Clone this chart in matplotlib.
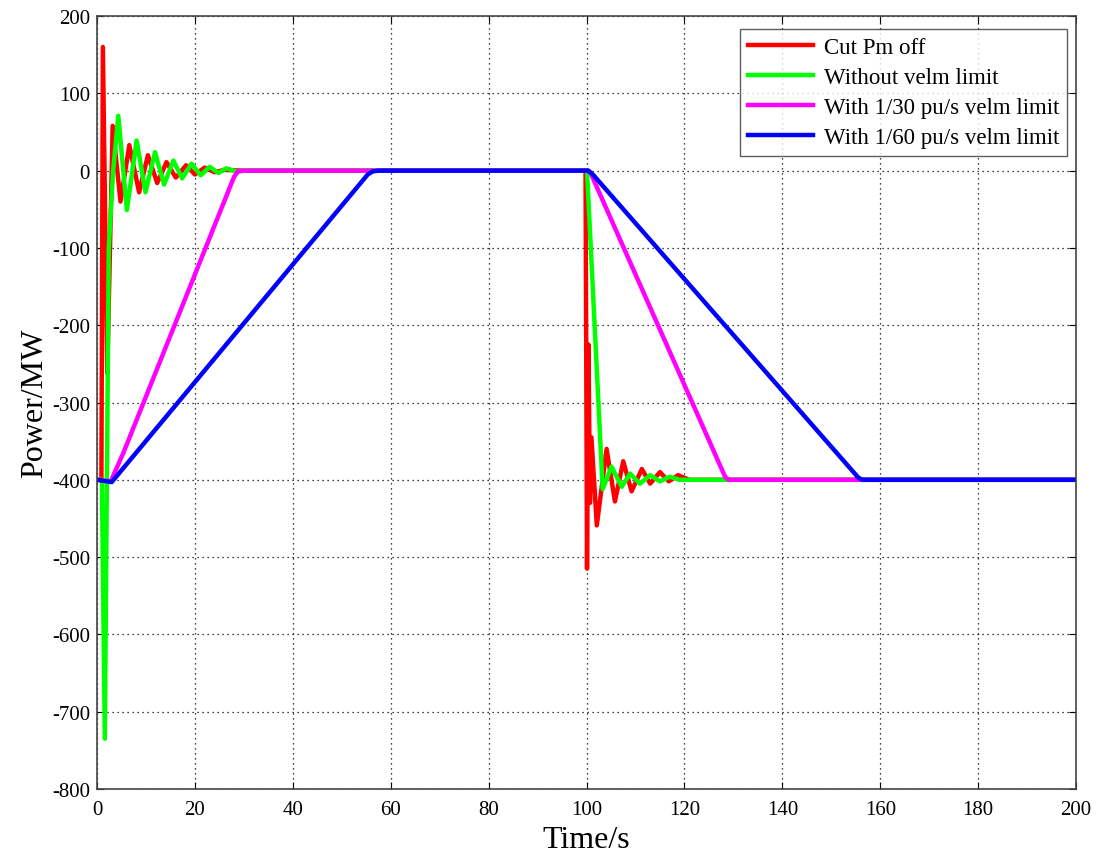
import numpy as np
import matplotlib
matplotlib.use('Agg')
import matplotlib.pyplot as plt

plt.rcParams['font.family'] = ['Liberation Serif', 'DejaVu Serif']
plt.rcParams['axes.unicode_minus'] = False

# Cut Pm off
t_cut = [0, 0.9, 1.2, 2.1, 3.2, 4.8, 6.6, 8.6, 10.4, 12.3, 14.2, 16.1, 18.2, 20.0, 22.0, 24.0, 26.0, 30.0,
         99.8, 100.1, 100.4, 100.7, 101.0, 102.1, 104.1, 105.8, 107.5, 109.2, 111.3, 113.0, 115.0,
         116.8, 118.7, 121.0, 200]
p_cut = [-400, -400, 160, -262, 58, -40, 33, -28, 20, -16, 11, -9, 7, -5, 4, -2, 1, 0,
         0, -515, -225, -430, -345, -459, -360, -428, -376, -415, -386, -405, -390,
         -402, -394, -400, -400]

# Without velm limit
t_free = [0, 1.0, 1.6, 2.4, 3.3, 4.35, 6.1, 8.1, 9.9, 11.85, 13.7, 15.6, 17.4, 19.3, 21.2, 23.0, 24.8,
          26.4, 28.5, 30.0, 100.1, 103.3, 105.1, 107.2, 108.9, 110.9, 113.0, 115.0, 117.0, 119.0, 200]
p_free = [-400, -400, -735, -100, 0, 71, -51, 39, -28, 24, -18, 13, -10, 9, -6, 5, -3,
          3, -1, 0, 0, -412, -383, -409, -392, -405, -394, -402, -396, -400, -400]

# With 1/30 pu/s velm limit
t_30 = [0, 2.8, 5.4, 28.0, 28.8, 30.0, 100.3, 100.9, 128.3, 129.0, 200]
p_30 = [-400, -402, -365, -8, -1, 0, 0, -4, -396, -400, -400]

# With 1/60 pu/s velm limit
t_60 = [0, 3.0, 55.3, 56.3, 57.5, 100.4, 101.3, 155.5, 156.3, 200]
p_60 = [-400, -403, -5, -1, 0, 0, -5, -397, -400, -400]

fig = plt.figure(figsize=(10.96, 8.54), dpi=100)
ax = fig.add_axes([0.0885, 0.075, 0.8933, 0.905])

lw = 3.2
ax.plot(t_cut, p_cut, color='#ff0000', lw=lw, label='Cut Pm off')
ax.plot(t_free, p_free, color='#00ff00', lw=lw, label='Without velm limit')
ax.plot(t_30, p_30, color='#ff00ff', lw=lw, label='With 1/30 pu/s velm limit')
ax.plot(t_60, p_60, color='#0000ff', lw=lw, label='With 1/60 pu/s velm limit')

ax.set_xlim(0, 200)
ax.set_ylim(-800, 200)
ax.set_xticks(np.arange(0, 201, 20))
ax.set_yticks(np.arange(-800, 201, 100))
ax.grid(True, linestyle=(0, (1, 3)), color='black', linewidth=0.9)
ax.tick_params(direction='in', top=True, right=True, length=5, labelsize=15)
ax.tick_params(axis='x', pad=8)
ax.tick_params(axis='y', pad=5)
for s in ax.spines.values():
    s.set_color('#444444')
    s.set_linewidth(1.2)

ax.set_xlabel('Time/s', fontsize=23, labelpad=4)
ax.set_ylabel('Power/MW', fontsize=23, labelpad=2)

leg = ax.legend(loc='upper right', bbox_to_anchor=(0.9908, 0.9832), borderaxespad=0,
                fontsize=16.5, frameon=True, fancybox=False, edgecolor='#333333',
                handlelength=2.85, labelspacing=0.39, handletextpad=0.45, borderpad=0.35)
leg.get_frame().set_linewidth(1.0)

fig.savefig('out.png', dpi=100)
